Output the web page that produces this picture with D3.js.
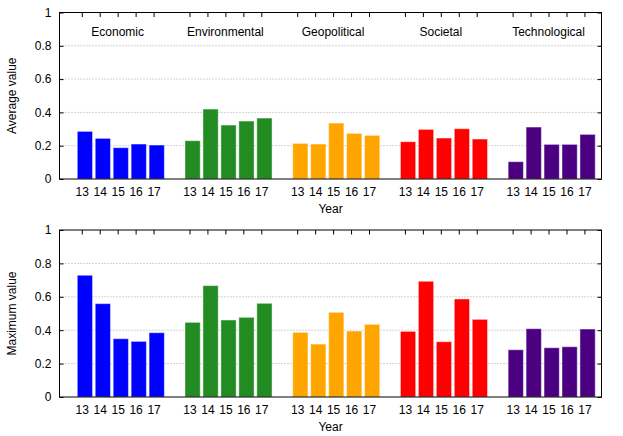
<!DOCTYPE html>
<html>
<head>
<meta charset="utf-8">
<script src="https://cdn.jsdelivr.net/npm/d3@7"></script>
<style>
body { margin: 0; background: #fff; }
text { font-family: "Liberation Sans", Arial, sans-serif; }
</style>
</head>
<body>
<div id="chart"></div>
<script>
// Data
const categories = ["Economic", "Environmental", "Geopolitical", "Societal", "Technological"];
const years = ["13", "14", "15", "16", "17"];
const colors = ["#0000ff", "#228b22", "#ffa500", "#ff0000", "#4b0082"];

const averageValues = [
  [0.286, 0.244, 0.188, 0.210, 0.204],
  [0.230, 0.420, 0.324, 0.348, 0.366],
  [0.214, 0.210, 0.336, 0.274, 0.262],
  [0.224, 0.298, 0.246, 0.302, 0.240],
  [0.104, 0.312, 0.208, 0.208, 0.268]
];
const maximumValues = [
  [0.729, 0.559, 0.349, 0.333, 0.385],
  [0.447, 0.667, 0.461, 0.477, 0.561],
  [0.387, 0.317, 0.507, 0.395, 0.435],
  [0.393, 0.693, 0.331, 0.587, 0.465],
  [0.283, 0.409, 0.295, 0.301, 0.407]
];
const yTicks = [0, 0.2, 0.4, 0.6, 0.8, 1];

// Dimensions
const width = 623, height = 436;
const plotLeft = 59.5, plotRight = 601.5;

const svg = d3.select("#chart")
  .append("svg")
  .attr("width", width)
  .attr("height", height);

// each year sits on a slot, groups separated by one empty slot
const slot = (g, i) => g * (years.length + 1) + i;

const xScale = d3.scaleLinear()
  .domain([-1.24, 28.95])
  .range([plotLeft, plotRight]);

const bars = [];
categories.forEach((c, g) => years.forEach((y, i) => bars.push({ g, i, pos: slot(g, i) })));
const tickPos = bars.map(d => d.pos);
const tickLabel = bars.map(d => years[d.i]);

function drawPanel(top, bottom, values, yLabel, showCategories) {
  const yScale = d3.scaleLinear().domain([0, 1]).range([bottom, top]);
  const g = svg.append("g");

  // grid
  g.append("g")
    .selectAll("line")
    .data(yTicks.filter(t => t > 0 && t < 1))
    .join("line")
    .attr("x1", plotLeft).attr("x2", plotRight)
    .attr("y1", d => yScale(d)).attr("y2", d => yScale(d))
    .attr("stroke", "#a8a8a8")
    .attr("stroke-dasharray", "1,2");

  // bars
  g.append("g")
    .selectAll("rect")
    .data(bars)
    .join("rect")
    .attr("x", d => xScale(d.pos - 0.25))
    .attr("width", xScale(0.85) - xScale(0))
    .attr("y", d => yScale(values[d.g][d.i]))
    .attr("height", d => yScale(0) - yScale(values[d.g][d.i]))
    .attr("fill", d => colors[d.g])
    .attr("stroke", "#fff")
    .attr("stroke-opacity", 0.45)
    .attr("stroke-width", 1);

  // axes
  const fontSize = "12px";
  const bottomAxis = g.append("g")
    .attr("transform", `translate(0,${bottom})`)
    .call(d3.axisBottom(xScale).tickValues(tickPos)
      .tickFormat((d, k) => tickLabel[k]).tickSize(0).tickPadding(8.5));
  bottomAxis.select(".domain").remove();
  bottomAxis.selectAll("text").style("font-size", fontSize).attr("fill", "#000");

  const topAxis = g.append("g")
    .attr("transform", `translate(0,${top})`)
    .call(d3.axisTop(xScale).tickValues(tickPos).tickFormat("").tickSize(-4.5));
  topAxis.select(".domain").remove();

  const leftAxis = g.append("g")
    .attr("transform", `translate(${plotLeft},0)`)
    .call(d3.axisLeft(yScale).tickValues(yTicks).tickFormat(d => String(d))
      .tickSize(-4).tickPadding(8));
  leftAxis.select(".domain").remove();
  leftAxis.selectAll("text").style("font-size", fontSize).attr("fill", "#000");

  const rightAxis = g.append("g")
    .attr("transform", `translate(${plotRight},0)`)
    .call(d3.axisRight(yScale).tickValues(yTicks).tickFormat("").tickSize(-4));
  rightAxis.select(".domain").remove();

  // frame
  g.append("rect")
    .attr("x", plotLeft).attr("y", top)
    .attr("width", plotRight - plotLeft).attr("height", bottom - top)
    .attr("fill", "none").attr("stroke", "#000").attr("stroke-width", 1);

  // labels
  g.append("text")
    .attr("transform", `translate(15.5,${(top + bottom) / 2}) rotate(-90)`)
    .attr("text-anchor", "middle")
    .style("font-size", fontSize)
    .text(yLabel);

  g.append("text")
    .attr("x", (plotLeft + plotRight) / 2)
    .attr("y", bottom + 34)
    .attr("text-anchor", "middle")
    .style("font-size", fontSize)
    .text("Year");

  if (showCategories) {
    g.append("g")
      .selectAll("text")
      .data(categories)
      .join("text")
      .attr("x", (d, k) => xScale(slot(k, 2)))
      .attr("y", top + 23)
      .attr("text-anchor", "middle")
      .style("font-size", fontSize)
      .text(d => d);
  }
}

drawPanel(12.5, 179, averageValues, "Average value", true);
drawPanel(230, 397, maximumValues, "Maximum value", false);
</script>
</body>
</html>
